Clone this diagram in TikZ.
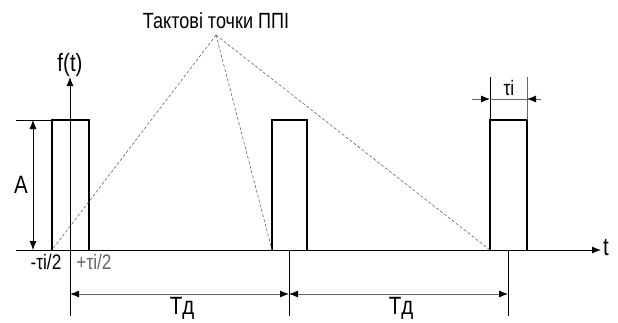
\documentclass[tikz,border=0pt]{standalone}
\usepackage{fontspec}
\setmainfont{Liberation Sans}[FakeStretch=0.82]
\usetikzlibrary{arrows.meta}
\begin{document}
\begin{tikzpicture}[x=1pt,y=-1pt,
  pulse/.style={line width=2.6pt,line join=miter},
  axis/.style={line width=0.9pt,-{Latex[length=9pt,width=7pt]}},
  thin/.style={line width=0.8pt},
  dim/.style={line width=0.9pt,black!60},
  tip/.style={{Latex[length=9pt,width=7pt,black]}-{Latex[length=9pt,width=7pt,black]}},
  dsh/.style={line width=0.6pt,black!60,dash pattern=on 3pt off 2pt},
  lbl/.style={inner sep=0pt,font=\fontsize{25}{28}\selectfont},
  mid/.style={inner sep=0pt,font=\fontsize{21}{24}\selectfont},
  small/.style={inner sep=0pt,font=\fontsize{22}{25}\selectfont}]
\useasboundingbox (0,0) rectangle (618,322);
% time axis
\coordinate (xs) at (16,250);
\coordinate (xe) at (601,250);
\draw[axis] (xs) -- (xe);
\node[lbl,anchor=west] (t) at (603,248) {t};
% vertical axis
\coordinate (ys) at (70,316);
\coordinate (ye) at (70,77);
\draw[axis] (ys) -- (ye);
\node[lbl,anchor=south] (ft) at (70,77) {f(t)};
% pulses
\draw[pulse] (52,250) -- (52,120) -- (89,120) -- (89,250);
\draw[pulse] (272,250) -- (272,120) -- (307,120) -- (307,250);
\draw[pulse] (490,250) -- (490,120) -- (527,120) -- (527,250);
% amplitude
\coordinate (a1) at (16,120);
\coordinate (a2) at (52,120);
\draw[thin] (a1) -- (a2);
\coordinate (at) at (33,120);
\coordinate (ab) at (33,250);
\draw[thin,tip] (at) -- (ab);
\node[lbl] (A) at (21,185) {A};
% tau dimension
\coordinate (u1) at (490,77);
\coordinate (u2) at (527,77);
\draw[thin] (u1) -- (490,120);
\draw[dim] (u2) -- (527,120);
\coordinate (tl) at (472,99);
\coordinate (tr) at (541,99);
\draw[dim,-{Latex[length=9pt,width=7pt,black]}] (tl) -- (490,99);
\draw[dim,-{Latex[length=9pt,width=7pt,black]}] (tr) -- (527,99);
\draw[dim] (490,99) -- (527,99);
\node[mid] (taui) at (509,88) {τi};
% labels under axis
\node[mid] (m) at (46,262) {-τi/2};
\node[mid,black!60] (p) at (94,262) {+τi/2};
% period dimension
\coordinate (p1) at (289,250);
\coordinate (p2) at (508,250);
\draw[thin] (p1) -- (289,316);
\draw[thin] (p2) -- (508,316);
\coordinate (d0) at (70,294);
\coordinate (d1) at (289,294);
\coordinate (d2) at (508,294);
\draw[dim,tip] (d0) -- (d1);
\draw[dim,tip] (d1) -- (d2);
\node[lbl] (T1) at (182,308) {Tд};
\node[lbl] (T2) at (401,308) {Tд};
% title and dashed lines
\node[small] (title) at (216,21) {Тактові точки ППІ};
\coordinate (apex) at (216,35);
\coordinate (b1) at (52,250);
\coordinate (b2) at (272,250);
\coordinate (b3) at (490,250);
\draw[dsh] (apex) -- (b1);
\draw[dsh] (apex) -- (b2);
\draw[dsh] (apex) -- (b3);
\end{tikzpicture}
\end{document}
